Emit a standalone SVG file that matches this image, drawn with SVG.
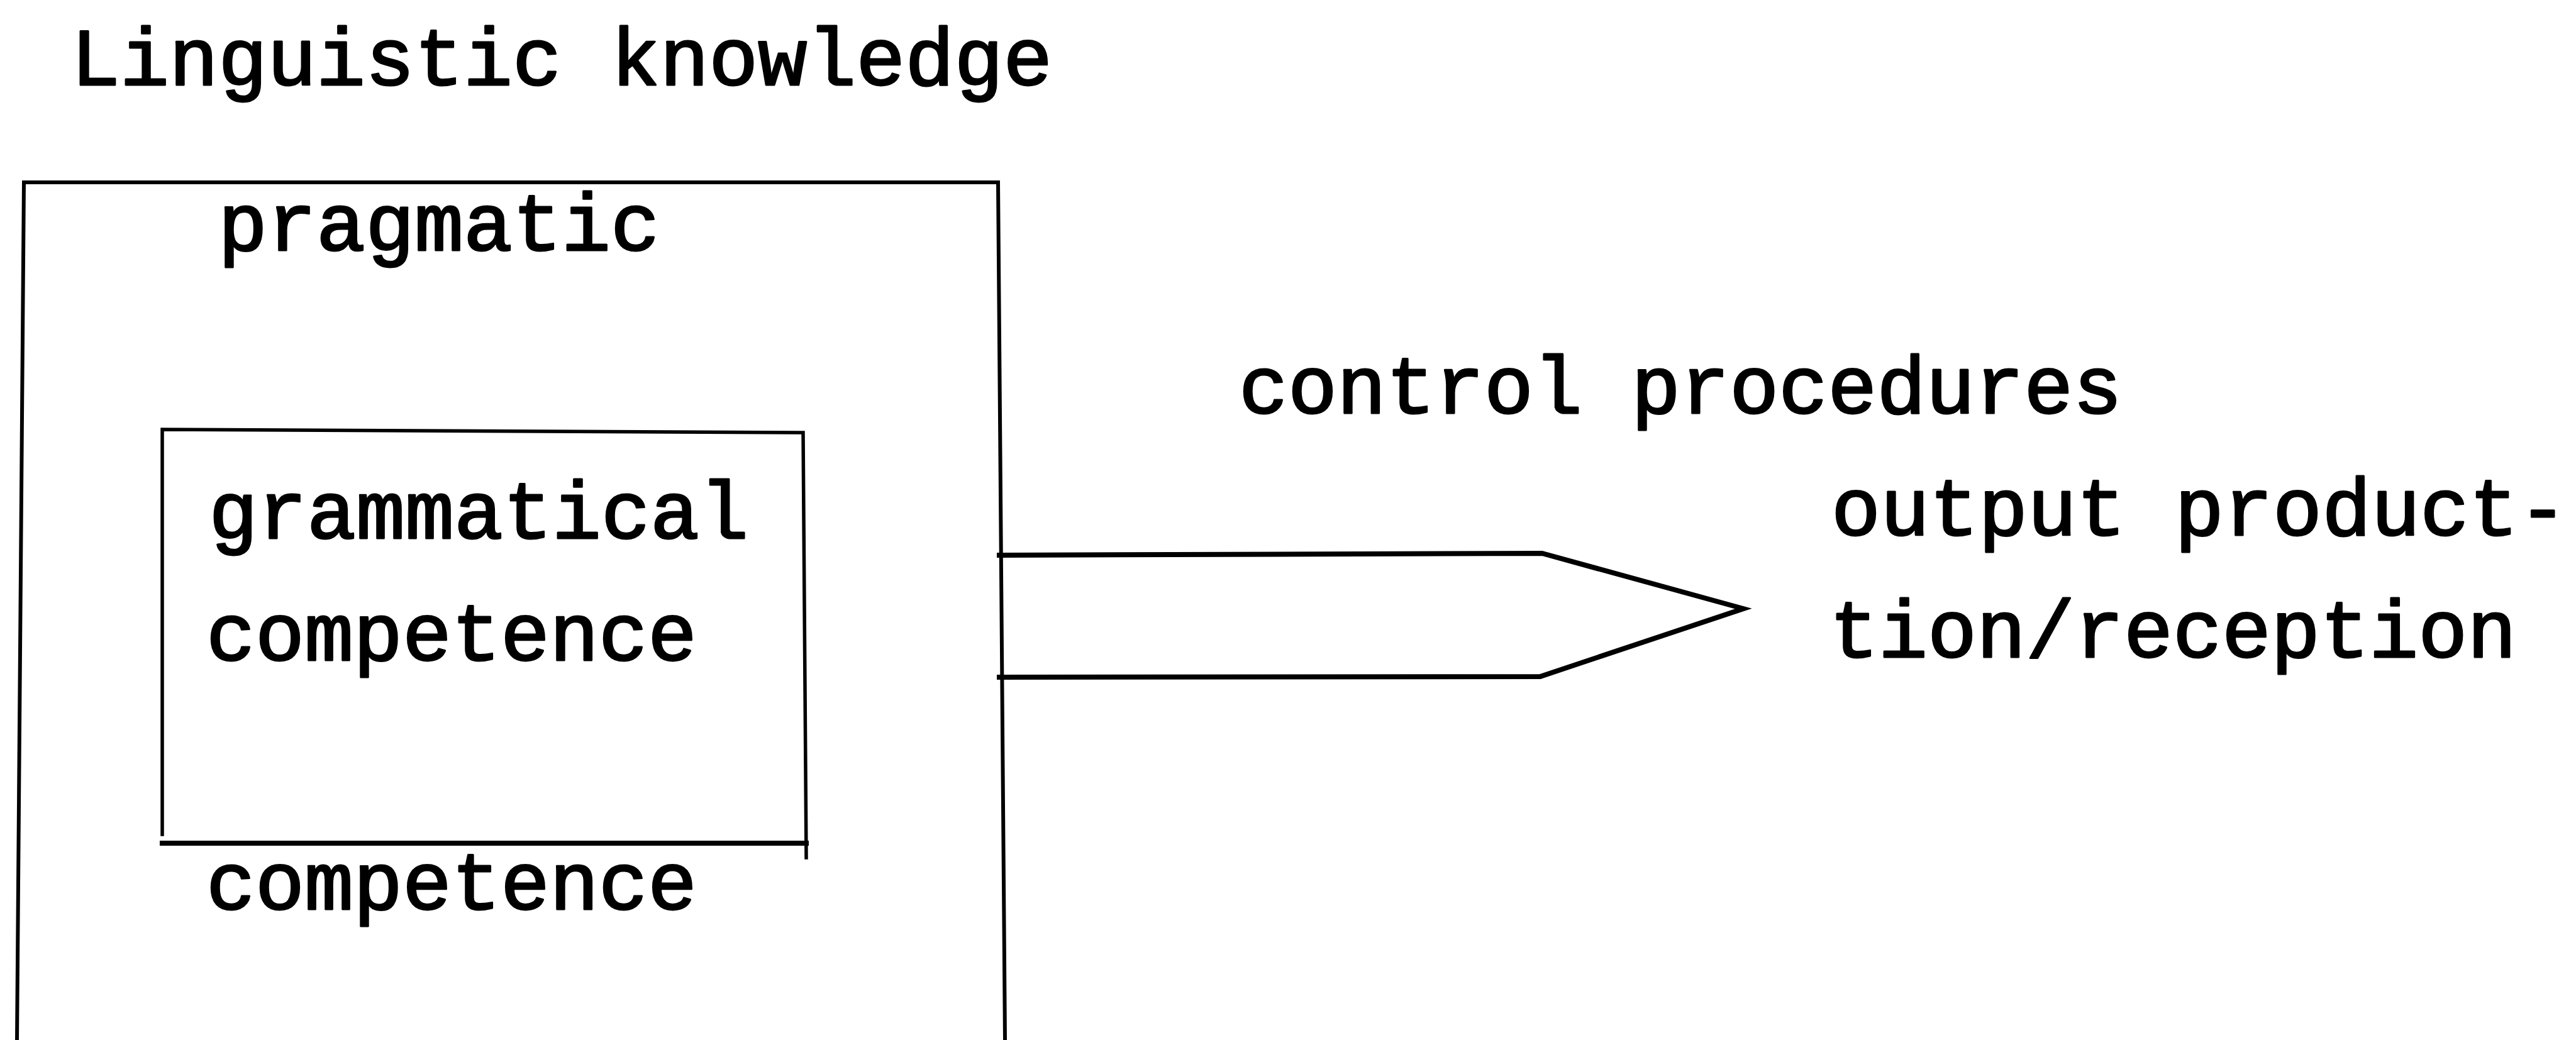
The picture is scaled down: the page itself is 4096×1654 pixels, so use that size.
<svg xmlns="http://www.w3.org/2000/svg" width="4096" height="1654" viewBox="0 0 4096 1654">
  <style>
    .t { font-family: "Liberation Mono", "Courier New", monospace; font-size: 130px; fill: #000; stroke: #000; stroke-width: 3; stroke-linejoin: round; }
    .ln { fill: none; stroke: #000; stroke-linecap: square; stroke-linejoin: miter; }
  </style>
  <rect width="4096" height="1654" fill="#fff"/>

  <!-- heading -->
  <g id="title">
    <text class="t" x="113" y="135">Linguistic knowledge</text>
  </g>

  <!-- outer box: pragmatic competence (open at the bottom) -->
  <g id="pragmatic-competence">
    <path class="ln" stroke-width="6" d="M27,1654 L38,290 L1587,290 L1598,1654"/>
    <text class="t" x="347" y="398">pragmatic</text>
    <text class="t" x="328" y="1446">competence</text>
  </g>

  <!-- inner box: grammatical competence -->
  <g id="grammatical-competence">
    <path class="ln" stroke-width="5.5" d="M258,1327 L258,683 L1277,688 L1282,1364"/>
    <path class="ln" stroke-width="8" d="M258,1341 L1282,1341"/>
    <text class="t" x="332" y="856">grammatical</text>
    <text class="t" x="328" y="1050">competence</text>
  </g>

  <!-- pointed band from the outer box to the output side -->
  <g id="connectors">
    <path class="ln" stroke-width="8" d="M1589,883 L2452,880 L2772,968 L2449,1076 L1589,1077"/>
  </g>

  <g id="control-procedures">
    <text class="t" x="1970" y="657">control procedures</text>
  </g>

  <g id="output-production-reception">
    <text class="t" x="2912" y="851">output product-</text>
    <text class="t" x="2909" y="1045">tion/reception</text>
  </g>
</svg>
